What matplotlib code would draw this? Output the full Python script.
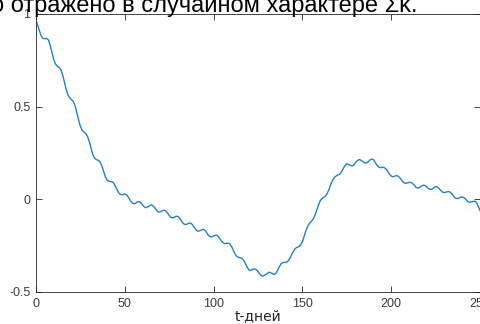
import matplotlib
matplotlib.use("Agg")
import matplotlib.pyplot as plt

plt.rcParams['font.family'] = ['Liberation Sans', 'DejaVu Sans']

# daily series, t = 0 .. 250
days = list(range(251))
values = [
    0.964, 0.939, 0.907, 0.881, 0.868, 0.867, 0.868, 0.860, 0.830, 0.791,
    0.754, 0.730, 0.718, 0.712, 0.699, 0.672, 0.633, 0.593, 0.563, 0.547,
    0.538, 0.528, 0.505, 0.468, 0.427, 0.393, 0.373, 0.363, 0.355, 0.340,
    0.311, 0.275, 0.242, 0.222, 0.214, 0.211, 0.203, 0.183, 0.153, 0.123,
    0.104, 0.098, 0.095, 0.095, 0.084, 0.065, 0.045, 0.030, 0.025, 0.026,
    0.029, 0.024, 0.012, -0.005, -0.018, -0.024, -0.022, -0.014, -0.012, -0.018,
    -0.030, -0.041, -0.045, -0.040, -0.034, -0.030, -0.036, -0.047, -0.061, -0.068,
    -0.068, -0.062, -0.059, -0.062, -0.073, -0.087, -0.098, -0.100, -0.096, -0.091,
    -0.093, -0.103, -0.118, -0.131, -0.136, -0.134, -0.129, -0.128, -0.136, -0.150,
    -0.164, -0.172, -0.170, -0.166, -0.162, -0.166, -0.178, -0.193, -0.202, -0.203,
    -0.198, -0.194, -0.195, -0.205, -0.220, -0.231, -0.238, -0.238, -0.237, -0.240,
    -0.252, -0.273, -0.294, -0.308, -0.313, -0.315, -0.319, -0.330, -0.348, -0.368,
    -0.382, -0.383, -0.378, -0.375, -0.379, -0.390, -0.403, -0.413, -0.414, -0.408,
    -0.402, -0.394, -0.395, -0.401, -0.405, -0.401, -0.384, -0.364, -0.348, -0.341,
    -0.340, -0.339, -0.332, -0.317, -0.297, -0.279, -0.265, -0.259, -0.255, -0.246,
    -0.229, -0.199, -0.169, -0.145, -0.130, -0.119, -0.107, -0.088, -0.061, -0.032,
    -0.008, 0.004, 0.011, 0.018, 0.032, 0.055, 0.081, 0.103, 0.118, 0.126,
    0.132, 0.136, 0.148, 0.166, 0.182, 0.192, 0.189, 0.183, 0.180, 0.186,
    0.199, 0.209, 0.215, 0.211, 0.204, 0.197, 0.196, 0.202, 0.212, 0.217,
    0.214, 0.199, 0.184, 0.174, 0.171, 0.172, 0.172, 0.165, 0.152, 0.137,
    0.125, 0.122, 0.125, 0.128, 0.125, 0.115, 0.102, 0.091, 0.086, 0.088,
    0.091, 0.092, 0.086, 0.076, 0.065, 0.060, 0.064, 0.072, 0.076, 0.075,
    0.067, 0.058, 0.053, 0.055, 0.062, 0.068, 0.067, 0.058, 0.047, 0.038,
    0.037, 0.039, 0.042, 0.040, 0.031, 0.018, 0.008, 0.004, 0.006, 0.011,
    0.013, 0.009, 0.000, -0.011, -0.016, -0.014, -0.012, -0.010, -0.016, -0.037,
    -0.060,
]

x_ticks = [0, 50, 100, 150, 200, 250]
x_tick_labels = ['0', '50', '100', '150', '200', '250']
y_ticks = [-0.5, 0, 0.5, 1]
y_tick_labels = ['-0.5', '0', '0.5', '1']

AX_COLOR = '#262626'
TICK_TEXT = '#3c3c3c'

fig = plt.figure(figsize=(4.81, 3.24), dpi=100)
ax = fig.add_axes([36 / 481, 32 / 324, 444 / 481, 278 / 324])

ax.plot(days, values, color='#2480c2', lw=1.0)

ax.set_xlim(0, 250)
ax.set_ylim(-0.5, 1)
ax.set_xticks(x_ticks)
ax.set_xticklabels(x_tick_labels)
ax.set_yticks(y_ticks)
ax.set_yticklabels(y_tick_labels)

ax.tick_params(direction='in', length=4, width=0.6, colors=AX_COLOR,
               labelcolor=TICK_TEXT, labelsize=9, top=True, right=True, pad=4)
for sp in ax.spines.values():
    sp.set_linewidth(0.6)
    sp.set_color(AX_COLOR)

ax.set_xlabel('t-дней', fontsize=10, color=AX_COLOR, labelpad=0,
              family=['DejaVu Sans'])

# line of document text running above the axes
fig.text(-9 / 481, 1 - 12 / 324, 'о отражено в случайном характере Σk.',
         fontsize=17, color='black', ha='left', va='baseline')

fig.savefig('out.png', dpi=100, facecolor='white')
